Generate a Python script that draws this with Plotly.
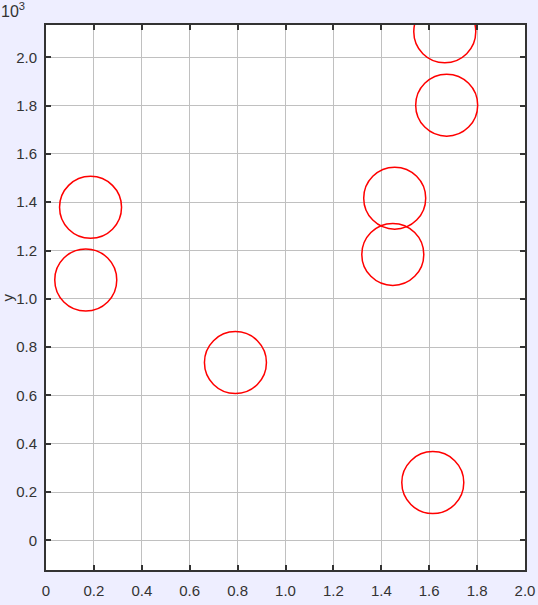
import plotly.graph_objects as go

x_vals = [0.186, 0.166, 0.791, 1.456, 1.448, 1.673, 1.665, 1.615]
y_vals = [1379, 1078, 736, 1417, 1184, 1802, 2106, 239]

x_ticks = [0, 0.2, 0.4, 0.6, 0.8, 1.0, 1.2, 1.4, 1.6, 1.8, 2.0]
x_tick_text = ["0", "0.2", "0.4", "0.6", "0.8", "1.0", "1.2", "1.4", "1.6", "1.8", "2.0"]
y_ticks = [0, 200, 400, 600, 800, 1000, 1200, 1400, 1600, 1800, 2000]
y_tick_text = ["0", "0.2", "0.4", "0.6", "0.8", "1.0", "1.2", "1.4", "1.6", "1.8", "2.0"]

font = dict(family="Liberation Sans, Arial, sans-serif", size=15, color="#333333")

fig = go.Figure()
fig.add_trace(go.Scatter(
    x=x_vals, y=y_vals, mode="markers",
    marker=dict(symbol="circle-open", size=62, color="#ff0000",
                line=dict(color="#ff0000", width=1.5)),
    cliponaxis=True, showlegend=False, hoverinfo="skip",
))

axis_common = dict(
    showline=True, linecolor="#333333", linewidth=2, mirror="ticks",
    ticks="inside", ticklen=5, tickwidth=2, tickcolor="#333333",
    showgrid=True, gridcolor="#c0c0c0", gridwidth=1, zeroline=False,
    tickfont=font, automargin=False,
)

fig.update_layout(
    width=538, height=605,
    paper_bgcolor="#eeeeff", plot_bgcolor="#ffffff",
    margin=dict(l=46, r=13, t=25, b=35, autoexpand=False),
    font=font,
    xaxis=dict(range=[0, 2.0], tickvals=x_ticks, ticktext=x_tick_text,
               ticklabelstandoff=6, **axis_common),
    yaxis=dict(range=[-123, 2134], tickvals=y_ticks, ticktext=y_tick_text,
               ticklabelstandoff=4, **axis_common),
    annotations=[
        dict(text="10<sup>3</sup>", x=0, y=1, xref="paper", yref="paper",
             xshift=-47, yshift=3, xanchor="left", yanchor="bottom",
             showarrow=False, font=dict(family=font["family"], size=16, color="#333333")),
        dict(text="y", x=0, y=0.5, xref="paper", yref="paper", textangle=-90,
             xshift=-39, xanchor="center", yanchor="middle",
             showarrow=False, font=font),
        dict(text="x", x=0.5, y=0, xref="paper", yref="paper",
             yshift=-30, xanchor="center", yanchor="top",
             showarrow=False, font=font),
    ],
)

fig.write_html("out.html", config={"displayModeBar": False},
               post_script="document.body.style.margin='0';document.body.style.overflow='hidden';")
